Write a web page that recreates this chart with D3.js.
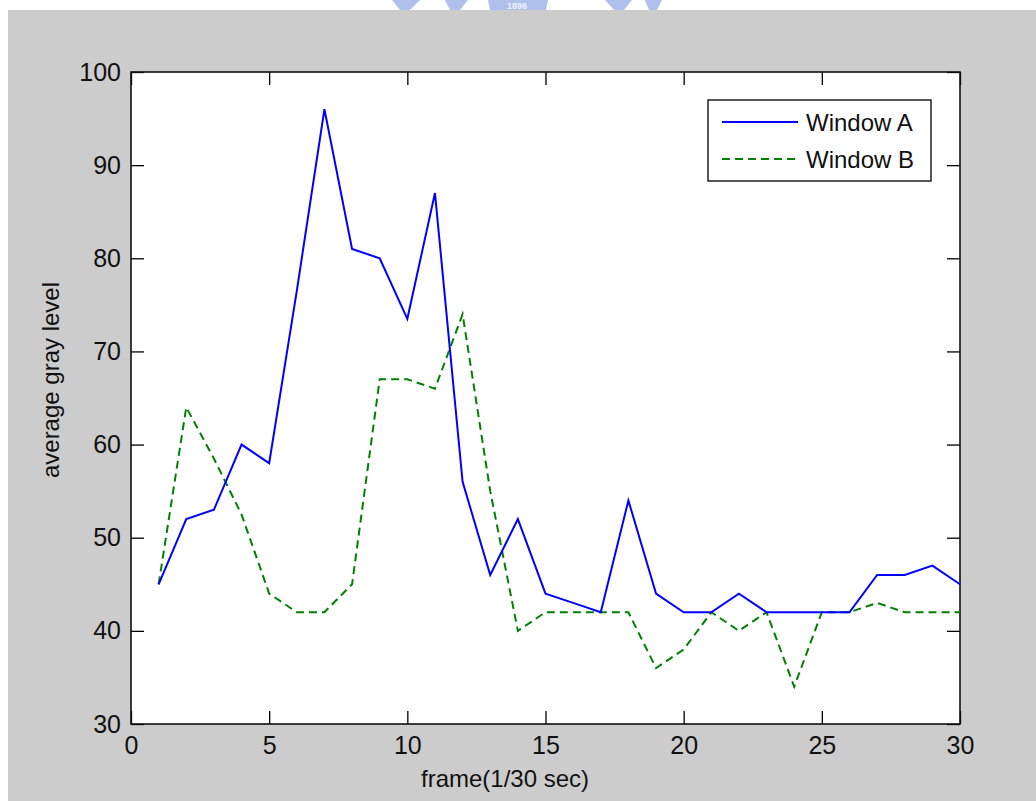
<!DOCTYPE html>
<html>
<head>
<meta charset="utf-8">
<script src="https://cdn.jsdelivr.net/npm/d3@7"></script>
<style>
  body { margin: 0; background: #fff; }
  svg { display: block; }
  text { font-family: "Liberation Sans", Arial, sans-serif; fill: #111; }
</style>
</head>
<body>
<script>
// frame index and average gray level per window
var frames = d3.range(1, 31);
var windowA = [45, 52, 53, 60, 58, 76.5, 96, 81, 80, 73.5, 87, 56, 46, 52, 44, 43, 42, 54, 44, 42,
               42, 44, 42, 42, 42, 42, 46, 46, 47, 45];
var windowB = [45, 64, 58.5, 52.5, 44, 42, 42, 45, 67, 67, 66, 74, 55, 40, 42, 42, 42, 42, 36, 38,
               42, 40, 42, 34, 42, 42, 43, 42, 42, 42];
var seriesNames = ["Window A", "Window B"];
var xTicks = [0, 5, 10, 15, 20, 25, 30];
var yTicks = [30, 40, 50, 60, 70, 80, 90, 100];

var width = 1036, height = 801;
var margin = {left: 131, right: 76, top: 72, bottom: 77};

var svg = d3.select("body").append("svg")
    .attr("width", width)
    .attr("height", height);

// matlab figure background
svg.append("rect")
    .attr("x", 8).attr("y", 10)
    .attr("width", width - 8).attr("height", height - 10)
    .attr("fill", "#cccccc");

// faint watermark peeking in at the top
var wm = svg.append("g").attr("fill", "#9db1e8").attr("opacity", 0.8);
wm.append("path").attr("d", "M392,0 L420,0 L410,10 L400,10 Z");
wm.append("path").attr("d", "M445,0 L468,0 L460,10 L450,10 Z");
wm.append("path").attr("d", "M488,0 L548,0 L546,10 L490,10 Z");
wm.append("path").attr("d", "M605,0 L632,0 L624,10 L614,10 Z");
wm.append("path").attr("d", "M645,0 L662,0 L657,10 L649,10 Z");
svg.append("text")
    .attr("x", 517).attr("y", 9)
    .attr("text-anchor", "middle")
    .style("font-size", "9px")
    .style("font-weight", "bold")
    .style("fill", "#eef2fc")
    .text("1896");

var x = d3.scaleLinear()
    .domain([0, 30])
    .range([margin.left, width - margin.right]);

var y = d3.scaleLinear()
    .domain([30, 100])
    .range([height - margin.bottom, margin.top]);

var plotW = x.range()[1] - x.range()[0];
var plotH = y.range()[0] - y.range()[1];

svg.append("rect")
    .attr("x", margin.left).attr("y", margin.top)
    .attr("width", plotW).attr("height", plotH)
    .attr("fill", "#fff");

var tickLen = 13;

// ticks on all four sides, pointing inward
svg.append("g")
    .attr("transform", `translate(0,${y(30)})`)
    .call(d3.axisBottom(x).tickValues(xTicks).tickSizeInner(-tickLen).tickSizeOuter(0).tickPadding(12))
    .call(g => g.select(".domain").remove());
svg.append("g")
    .attr("transform", `translate(0,${y(100)})`)
    .call(d3.axisTop(x).tickValues(xTicks).tickSizeInner(-tickLen).tickSizeOuter(0).tickFormat(""))
    .call(g => g.select(".domain").remove());
svg.append("g")
    .attr("transform", `translate(${x(0)},0)`)
    .call(d3.axisLeft(y).tickValues(yTicks).tickSizeInner(-tickLen).tickSizeOuter(0).tickPadding(10))
    .call(g => g.select(".domain").remove());
svg.append("g")
    .attr("transform", `translate(${x(30)},0)`)
    .call(d3.axisRight(y).tickValues(yTicks).tickSizeInner(-tickLen).tickSizeOuter(0).tickFormat(""))
    .call(g => g.select(".domain").remove());

svg.selectAll(".tick line")
    .attr("stroke", "#000")
    .attr("stroke-width", 1.3);
// the matlab digits are tall and narrow
svg.selectAll(".tick text")
    .style("font-size", "25px")
    .style("font-family", "'Liberation Sans Narrow', 'Arial Narrow', 'Liberation Sans', Arial, sans-serif")
    .attr("fill", "#111");

// box
svg.append("rect")
    .attr("x", margin.left).attr("y", margin.top)
    .attr("width", plotW).attr("height", plotH)
    .attr("fill", "none")
    .attr("stroke", "#111")
    .attr("stroke-width", 1.6);

var line = d3.line()
    .x((d, i) => x(frames[i]))
    .y(d => y(d));

svg.append("path")
    .datum(windowB)
    .attr("d", line)
    .attr("fill", "none")
    .attr("stroke", "#008000")
    .attr("stroke-width", 2)
    .attr("stroke-dasharray", "8,5");

svg.append("path")
    .datum(windowA)
    .attr("d", line)
    .attr("fill", "none")
    .attr("stroke", "#0000ff")
    .attr("stroke-width", 2);

// axis labels
svg.append("text")
    .attr("x", 505).attr("y", 787)
    .attr("text-anchor", "middle")
    .style("font-size", "24px")
    .text("frame(1/30 sec)");

svg.append("text")
    .attr("transform", "translate(59,380) rotate(-90)")
    .attr("text-anchor", "middle")
    .style("font-size", "24px")
    .text("average gray level");

// legend
var legend = svg.append("g");
legend.append("rect")
    .attr("x", 708).attr("y", 100)
    .attr("width", 223).attr("height", 81)
    .attr("fill", "#fff")
    .attr("stroke", "#111")
    .attr("stroke-width", 1.4);

var legColors = ["#0000ff", "#008000"];
var legDash = [null, "8,5"];
seriesNames.forEach((name, i) => {
  var ly = 122 + i * 37;
  legend.append("line")
      .attr("x1", 722).attr("x2", 798)
      .attr("y1", ly).attr("y2", ly)
      .attr("stroke", legColors[i])
      .attr("stroke-width", 2)
      .attr("stroke-dasharray", legDash[i]);
  legend.append("text")
      .attr("x", 806).attr("y", ly + 9)
      .style("font-size", "24px")
      .text(name);
});
</script>
</body>
</html>
